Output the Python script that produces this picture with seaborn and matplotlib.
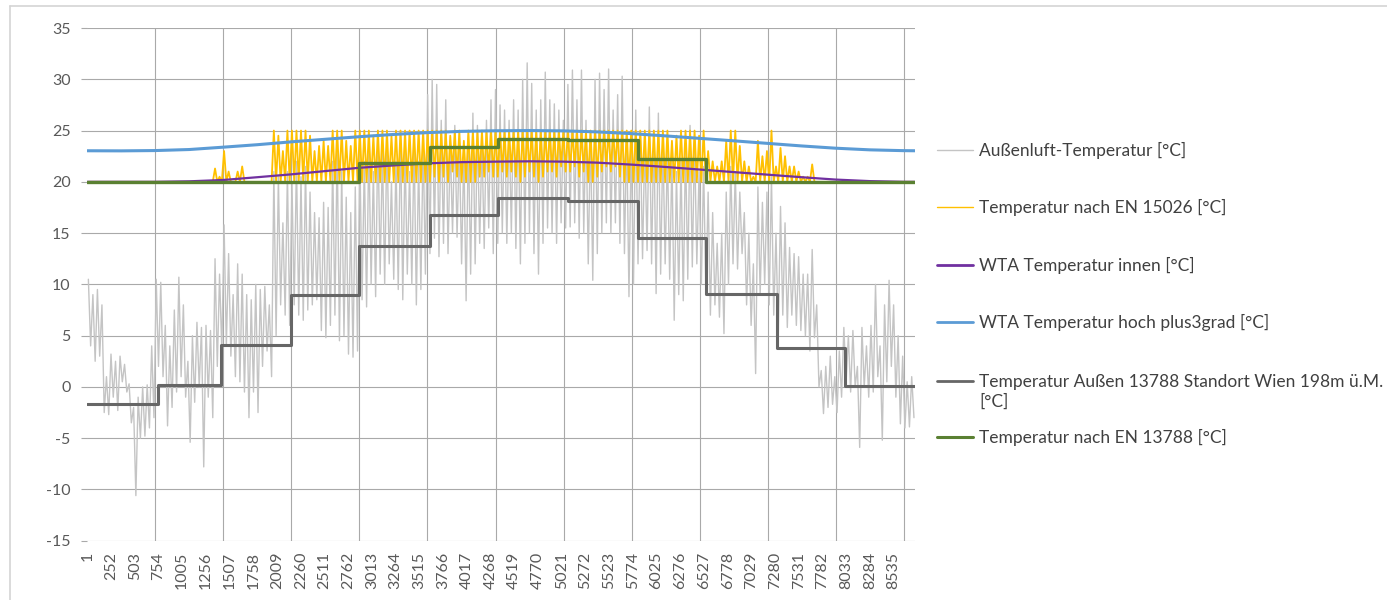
import numpy as np
import pandas as pd
import matplotlib
matplotlib.use("Agg")
import matplotlib.pyplot as plt
from matplotlib.lines import Line2D
import seaborn as sns

# ---------------------------------------------------------------------------
# Data (hours of the year 1 ... 8760)
# ---------------------------------------------------------------------------
# Outdoor air temperature: hourly record condensed to alternating peaks and
# troughs, one peak/trough pair per two-day window (183 windows).
outdoor_peaks = [
    10.5, 9.0, 9.5, 8.0, 1.0, 3.2, 2.5, 3.0, 2.2, 0.3,
    -2.0, -1.0, 0.0, 0.2, 4.0, 10.5, 10.2, 6.0, 4.0, 7.5,
    10.7, 8.0, 2.5, 5.0, 6.3, 5.8, 6.0, 5.5, 12.5, 11.0,
    15.8, 13.0, 9.0, 12.0, 11.0, 9.0, 8.5, 10.0, 9.5, 9.8,
    8.0, 21.0, 20.5, 16.0, 21.0, 20.0, 22.0, 20.5, 21.5, 19.0,
    17.0, 16.5, 18.0, 17.5, 22.0, 23.5, 21.0, 18.5, 17.0, 19.5,
    23.0, 22.0, 24.0, 21.0, 25.0, 23.0, 24.5, 20.0, 22.0, 25.0,
    23.0, 21.0, 24.0, 22.0, 24.0, 28.5, 30.0, 29.5, 26.0, 28.0,
    24.0, 25.5, 24.0, 23.0, 24.5, 26.7, 25.5, 24.0, 26.0, 28.0,
    29.0, 27.5, 27.0, 26.0, 28.0, 27.0, 30.0, 31.6, 29.6, 27.0,
    28.0, 30.7, 28.0, 27.6, 27.0, 26.0, 29.5, 30.9, 28.0, 30.9,
    26.0, 25.0, 30.0, 30.6, 29.0, 31.0, 27.0, 28.5, 30.3, 25.0,
    24.0, 27.0, 25.0, 24.0, 27.3, 25.0, 26.7, 24.0, 23.0, 22.4,
    21.0, 22.0, 23.5, 25.5, 24.0, 21.0, 21.5, 19.0, 17.0, 14.0,
    15.0, 19.0, 21.5, 21.0, 19.0, 17.0, 15.0, 12.0, 19.5, 18.0,
    19.0, 20.5, 15.0, 17.6, 16.0, 13.6, 13.0, 12.7, 11.0, 11.0,
    13.4, 8.0, 1.6, 2.0, 3.0, 1.0, 3.5, 5.8, 5.0, 5.5,
    2.0, 5.8, 4.0, 6.0, 10.0, 4.0, 8.0, 10.4, 8.0, 5.0,
    3.0, 0.5, 1.0,
]
outdoor_troughs = [
    4.0, 2.5, 3.0, -2.5, -2.7, -1.0, -2.3, 0.5, -0.5, -3.5,
    -10.6, -5.0, -4.8, -4.0, -3.0, 2.0, 1.0, -3.8, -2.0, -0.5,
    1.0, -1.0, -5.4, -1.5, 0.0, -7.8, -1.0, -3.0, 2.0, 3.5,
    4.0, 3.0, 1.0, 0.5, -0.5, -3.0, -0.5, -2.5, 2.0, 3.5,
    1.0, 5.0, 8.0, 7.0, 6.0, 8.0, 7.0, 6.5, 7.5, 8.0,
    8.5, 5.5, 4.8, 6.0, 7.0, 4.5, 5.0, 3.2, 2.9, 3.5,
    8.5, 7.8, 10.0, 8.8, 11.0, 10.0, 12.0, 10.5, 9.5, 8.5,
    11.0, 10.0, 8.0, 9.5, 11.0, 13.0, 14.5, 12.7, 14.0, 13.0,
    15.0, 14.6, 12.0, 8.4, 11.0, 12.0, 14.0, 13.5, 15.5, 13.0,
    14.0, 15.0, 14.0, 15.0, 13.5, 12.0, 14.0, 15.0, 13.0, 11.0,
    14.0, 15.5, 15.0, 14.0, 16.0, 15.5, 15.6, 16.0, 14.5, 15.0,
    12.0, 10.4, 13.0, 15.0, 16.0, 15.0, 16.0, 14.0, 13.0, 8.8,
    10.0, 12.0, 12.5, 13.3, 12.0, 9.1, 11.0, 12.0, 10.5, 6.5,
    9.0, 8.4, 10.5, 11.7, 12.0, 10.0, 9.0, 7.0, 8.0, 6.8,
    5.2, 10.0, 12.0, 11.5, 13.0, 8.0, 6.0, 1.3, 9.0, 10.0,
    8.0, 7.0, 4.9, 7.0, 5.8, 7.0, 6.0, 5.5, 5.0, 3.5,
    4.8, 0.0, -2.6, -2.0, -1.7, -2.5, -1.0, 0.5, -0.5, 0.0,
    -5.9, 0.0, -1.0, -0.5, 1.0, -5.2, 0.5, 2.0, -1.0, -3.6,
    -4.0, -3.9, -3.0,
]

# Indoor temperature according to EN 15026, same two-day windows.
en15026_peaks = (
    [20.0] * 28
    + [21.3, 20.5, 23.0, 21.0, 20.0, 21.0, 21.5, 20.0, 20.0, 20.0, 20.0, 20.0, 20.0]
    + [25.0, 24.5, 23.0, 25.0, 25.0]
    + [25.0, 25.0, 25.0, 24.5, 23.0, 23.5, 24.0, 23.5, 25.0, 25.0, 25.0, 24.0, 23.5, 25.0]
    + [25.0, 25.0, 25.0, 24.5, 25.0, 25.0, 25.0, 24.5, 25.0, 25.0, 25.0, 25.0, 25.0, 25.0, 25.0, 25.0]
    + [25.0, 25.0, 25.0, 25.0, 24.5, 25.0, 25.0, 24.0, 25.0, 25.0,
       25.0, 25.0, 25.0, 25.0, 25.0, 25.0, 25.0, 25.0, 25.0, 25.0,
       25.0, 25.0, 25.0, 25.0, 25.0, 25.0, 25.0, 25.0, 25.0, 25.0,
       25.0, 25.0, 25.0, 25.0, 25.0, 25.0, 25.0, 25.0, 25.0, 25.0,
       25.0, 25.0, 25.0, 25.0, 25.0, 25.0, 25.0, 25.0, 25.0, 25.0,
       25.0, 25.0, 25.0, 24.0, 24.5, 25.0, 25.0, 25.0, 25.0, 24.5, 25.0]
    + [23.0, 22.0, 21.5, 22.0, 24.0, 25.0, 25.0, 23.5, 22.0, 21.5, 20.5, 24.0,
       22.5, 23.0, 25.0, 21.5, 23.3, 22.5, 21.5, 21.5, 21.0, 20.5, 20.5, 21.7]
    + [20.0] * 22
)
en15026_troughs = (
    [20.0] * 76
    + [20.5, 20.0, 20.5, 20.0, 21.0, 20.5, 20.0, 20.0, 20.0, 20.0, 20.5, 20.5, 21.0, 20.5, 20.5, 21.0]
    + [20.5, 21.0, 20.5, 20.0, 20.5, 21.0, 20.5, 20.0, 20.5, 21.0, 21.0, 20.5, 21.5, 21.0,
       21.0, 21.5, 20.5, 21.0, 20.0, 20.0, 20.5, 21.0, 21.5, 21.0, 21.5, 20.5, 20.0]
    + [20.0] * 64
)

# WTA indoor design curves, sampled every 360 h.
wta_hours = [1, 360, 720, 1080, 1440, 1800, 2160, 2520, 2880, 3240, 3600, 3960, 4320,
             4680, 5040, 5400, 5760, 6120, 6480, 6840, 7200, 7560, 7920, 8280, 8640, 8760]
wta_inside = [20.0, 20.0, 20.0, 20.05, 20.18, 20.45, 20.73, 21.05, 21.37, 21.6, 21.8, 21.92, 21.97,
              22.0, 21.97, 21.87, 21.68, 21.45, 21.2, 20.95, 20.7, 20.45, 20.22, 20.07, 20.0, 20.0]
wta_high = [23.03, 23.02, 23.05, 23.15, 23.38, 23.62, 23.9, 24.15, 24.4, 24.62, 24.8, 24.92, 24.98,
            25.0, 24.97, 24.87, 24.7, 24.48, 24.24, 24.0, 23.75, 23.5, 23.28, 23.12, 23.04, 23.03]

# Monthly means (EN 13788), Vienna 198 m a.s.l.
month_days = [31, 28, 31, 30, 31, 30, 31, 31, 30, 31, 30, 31]
outdoor_monthly = [-1.7, 0.2, 4.1, 9.0, 13.7, 16.8, 18.4, 18.1, 14.5, 9.1, 3.8, 0.1]
en13788_monthly = [20.0, 20.0, 20.0, 20.0, 21.85, 23.4, 24.2, 24.05, 22.25, 20.0, 20.0, 20.0]

x_tick_labels = ["1", "252", "503", "754", "1005", "1256", "1507", "1758", "2009", "2260",
                 "2511", "2762", "3013", "3264", "3515", "3766", "4017", "4268", "4519",
                 "4770", "5021", "5272", "5523", "5774", "6025", "6276", "6527", "6778",
                 "7029", "7280", "7531", "7782", "8033", "8284", "8535"]
y_ticks = [-15, -10, -5, 0, 5, 10, 15, 20, 25, 30, 35]

series_labels = [
    "Außenluft-Temperatur [°C]",
    "Temperatur nach EN 15026 [°C]",
    "WTA Temperatur innen [°C]",
    "WTA Temperatur hoch plus3grad [°C]",
    "Temperatur Außen 13788 Standort Wien 198m ü.M.\n[°C]",
    "Temperatur nach EN 13788 [°C]",
]

# ---------------------------------------------------------------------------
# Frames for plotting
# ---------------------------------------------------------------------------
n_win = len(outdoor_peaks)
win = 8760.0 / n_win
hour_peaks = 1 + win * (np.arange(n_win) + 0.25)
hour_troughs = 1 + win * (np.arange(n_win) + 0.75)

def zigzag(hi, lo):
    hours = np.empty(2 * n_win)
    vals = np.empty(2 * n_win)
    hours[0::2], hours[1::2] = hour_peaks, hour_troughs
    vals[0::2], vals[1::2] = hi, lo
    return pd.DataFrame({"Stunde": hours, "Temperatur": vals})

df_outdoor = zigzag(outdoor_peaks, outdoor_troughs)
df_en15026 = zigzag(en15026_peaks, en15026_troughs)
df_wta = pd.DataFrame({"Stunde": wta_hours, "innen": wta_inside, "hoch": wta_high})

month_start = np.concatenate([[1], 1 + np.cumsum(month_days)[:-1] * 24])
step_hours = np.append(month_start, 8760)
df_monthly = pd.DataFrame({
    "Stunde": step_hours,
    "aussen": outdoor_monthly + [outdoor_monthly[-1]],
    "en13788": en13788_monthly + [en13788_monthly[-1]],
})

# ---------------------------------------------------------------------------
# Figure
# ---------------------------------------------------------------------------
sns.set_style("white")
plt.rcParams["font.family"] = ["Lato", "DejaVu Sans"]
plt.rcParams["axes.unicode_minus"] = False

colors = ["#c4c4c4", "#ffc000", "#7030a0", "#5b9bd5", "#666666", "#5a8032"]
widths = [1.0, 1.3, 1.6, 2.2, 2.2, 2.4]

fig = plt.figure(figsize=(13.87, 6.0), dpi=100)
ax = fig.add_axes([0.0629, 0.0988, 0.5968, 0.8545])

common = dict(ax=ax, legend=False, estimator=None, errorbar=None, sort=False)
sns.lineplot(data=df_outdoor, x="Stunde", y="Temperatur", color=colors[0], lw=widths[0], **common)
sns.lineplot(data=df_en15026, x="Stunde", y="Temperatur", color=colors[1], lw=widths[1], **common)
sns.lineplot(data=df_wta, x="Stunde", y="innen", color=colors[2], lw=widths[2], **common)
sns.lineplot(data=df_wta, x="Stunde", y="hoch", color=colors[3], lw=widths[3], **common)
sns.lineplot(data=df_monthly, x="Stunde", y="aussen", color=colors[4], lw=widths[4],
             drawstyle="steps-post", **common)
sns.lineplot(data=df_monthly, x="Stunde", y="en13788", color=colors[5], lw=widths[5],
             drawstyle="steps-post", **common)

ax.set_xlim(1, 8760)
ax.set_ylim(-15, 35)
ax.set_xlabel("")
ax.set_ylabel("")

tick_hours = [int(t) for t in x_tick_labels]
ax.set_xticks(tick_hours)
ax.set_xticklabels(x_tick_labels, rotation=90)
ax.set_xticks(np.arange(1, 8760, 720), minor=True)
ax.set_yticks(y_ticks)

grid_color = "#a9a9a9"
ax.grid(False)
ax.grid(axis="y", which="major", color=grid_color, lw=0.8)
ax.grid(axis="x", which="minor", color=grid_color, lw=0.8)
ax.tick_params(axis="x", which="both", length=0, pad=8, labelsize=11.5, labelcolor="#595959")
ax.tick_params(axis="y", which="major", length=4, width=0.8, color=grid_color, pad=8,
               labelsize=11.5, labelcolor="#595959", left=True)
for s in ax.spines.values():
    s.set_visible(False)

# Legend column on the right
W, H = 1387.0, 600.0
legend_y = [150, 207, 265, 322, 392, 437]
legend_widths = [1.0, 1.0, 2.0, 2.0, 2.0, 2.2]
for lab, col, lw, y in zip(series_labels, colors, legend_widths, legend_y):
    yy = y if "\n" not in lab else 381
    fig.add_artist(Line2D([937 / W, 973 / W], [1 - yy / H] * 2, color=col, lw=lw,
                          transform=fig.transFigure))
    fig.text(979 / W, 1 - y / H, lab, ha="left", va="center", fontsize=12.5,
             color="#404040", linespacing=1.27)

# Outer chart frame
frame_kw = dict(color="#d4d4d4", lw=1.2, transform=fig.transFigure)
fig.add_artist(Line2D([10 / W, 1.0], [1 - 6 / H] * 2, **frame_kw))
fig.add_artist(Line2D([10 / W] * 2, [0.0, 1 - 6 / H], **frame_kw))

fig.savefig("out.png", dpi=100)
